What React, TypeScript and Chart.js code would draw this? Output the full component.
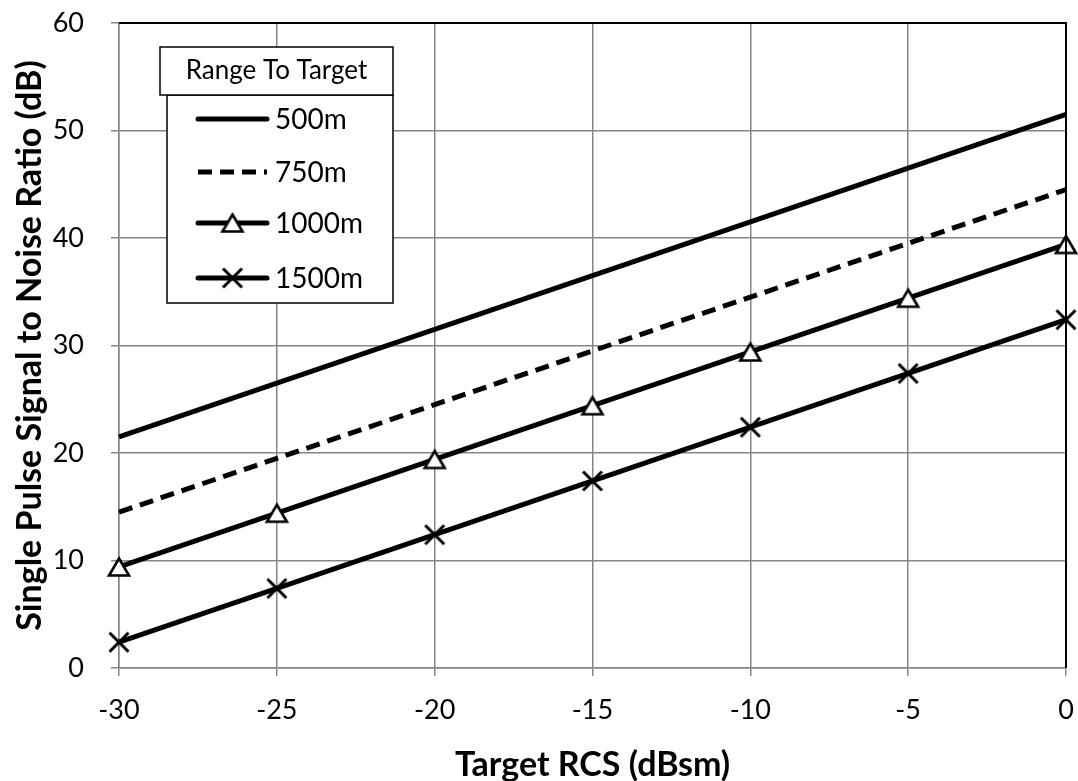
import React, { useEffect, useRef } from "react";
import { Chart, registerables } from "chart.js";

Chart.register(...registerables);

const rcsValues = [-30, -25, -20, -15, -10, -5, 0];
const snr500 = [21.5, 26.5, 31.5, 36.5, 41.5, 46.5, 51.5];
const snr750 = [14.5, 19.5, 24.5, 29.5, 34.5, 39.5, 44.5];
const snr1000 = [9.4, 14.4, 19.4, 24.4, 29.4, 34.4, 39.4];
const snr1500 = [2.4, 7.4, 12.4, 17.4, 22.4, 27.4, 32.4];
const seriesNames = ["500m", "750m", "1000m", "1500m"];
const legendTitle = "Range To Target";
const xTitle = "Target RCS (dBsm)";
const yTitle = "Single Pulse Signal to Noise Ratio (dB)";

const FONT = "Lato, 'Open Sans', sans-serif";

function makeTriangle(): HTMLCanvasElement {
  const c = document.createElement("canvas");
  const s = 28;
  c.width = s;
  c.height = s;
  const ctx = c.getContext("2d")!;
  const w = 20, h = 17;
  const cx = s / 2, cy = s / 2;
  ctx.beginPath();
  ctx.moveTo(cx, cy - h / 2);
  ctx.lineTo(cx + w / 2, cy + h / 2);
  ctx.lineTo(cx - w / 2, cy + h / 2);
  ctx.closePath();
  ctx.fillStyle = "#ffffff";
  ctx.fill();
  ctx.lineWidth = 2.6;
  ctx.lineJoin = "miter";
  ctx.strokeStyle = "#000000";
  ctx.stroke();
  return c;
}

function makeCross(): HTMLCanvasElement {
  const c = document.createElement("canvas");
  const s = 28;
  c.width = s;
  c.height = s;
  const ctx = c.getContext("2d")!;
  const hw = 9.5;
  const cx = s / 2, cy = s / 2;
  ctx.beginPath();
  ctx.moveTo(cx - hw, cy - hw);
  ctx.lineTo(cx + hw, cy + hw);
  ctx.moveTo(cx + hw, cy - hw);
  ctx.lineTo(cx - hw, cy + hw);
  ctx.lineWidth = 3;
  ctx.strokeStyle = "#000000";
  ctx.stroke();
  return c;
}

export default function App() {
  const ref = useRef<HTMLCanvasElement | null>(null);

  useEffect(() => {
    if (!ref.current) return;
    const tri = makeTriangle();
    const cross = makeCross();
    const toPts = (arr: number[]) => rcsValues.map((x, i) => ({ x, y: arr[i] }));

    const frameAndLegend = {
      id: "frameAndLegend",
      afterDatasetsDraw(chart: any) {
        const { ctx, chartArea } = chart;
        ctx.save();
        ctx.strokeStyle = "#000000";
        ctx.lineWidth = 2;
        ctx.beginPath();
        ctx.moveTo(chartArea.left, chartArea.top);
        ctx.lineTo(chartArea.right, chartArea.top);
        ctx.lineTo(chartArea.right, chartArea.bottom);
        ctx.stroke();
        ctx.restore();
      },
      afterDraw(chart: any) {
        const { ctx, chartArea } = chart;
        const L = chartArea.left;
        const T = chartArea.top;
        ctx.save();
        ctx.fillStyle = "#ffffff";
        ctx.strokeStyle = "#000000";
        ctx.lineWidth = 1.5;
        const tb = { x: L + 41, y: T + 24, w: 233, h: 48 };
        const ib = { x: L + 48, y: T + 72, w: 226, h: 208 };
        ctx.fillRect(ib.x, ib.y, ib.w, ib.h);
        ctx.strokeRect(ib.x, ib.y, ib.w, ib.h);
        ctx.fillRect(tb.x, tb.y, tb.w, tb.h);
        ctx.strokeRect(tb.x, tb.y, tb.w, tb.h);
        ctx.fillStyle = "#000000";
        ctx.font = `26px ${FONT}`;
        ctx.textAlign = "center";
        ctx.textBaseline = "middle";
        ctx.fillText(legendTitle, tb.x + tb.w / 2, tb.y + tb.h / 2);
        const rowY = [T + 96, T + 149, T + 200, T + 255];
        const x0 = L + 79, x1 = L + 148;
        ctx.textAlign = "left";
        ctx.font = `28px ${FONT}`;
        seriesNames.forEach((name, i) => {
          const y = rowY[i];
          ctx.beginPath();
          ctx.lineWidth = 5;
          ctx.strokeStyle = "#000000";
          ctx.lineCap = i === 1 ? "butt" : "round";
          ctx.setLineDash(i === 1 ? [14, 8] : []);
          ctx.moveTo(x0, y);
          ctx.lineTo(x1, y);
          ctx.stroke();
          ctx.setLineDash([]);
          const mx = (x0 + x1) / 2;
          if (i === 2) ctx.drawImage(tri, mx - 14, y - 14);
          if (i === 3) ctx.drawImage(cross, mx - 14, y - 14);
          ctx.fillStyle = "#000000";
          ctx.fillText(name, x1 + 8, y + 1);
        });
        ctx.restore();
      },
    };

    const common = {
      borderColor: "#000000",
      borderWidth: 5,
      fill: false,
      tension: 0,
      clip: false as any,
    };

    const chart = new Chart(ref.current, {
      type: "line",
      data: {
        datasets: [
          { ...common, label: seriesNames[0], data: toPts(snr500), pointRadius: 0 },
          { ...common, label: seriesNames[1], data: toPts(snr750), pointRadius: 0, borderDash: [14, 8] },
          { ...common, label: seriesNames[2], data: toPts(snr1000), pointStyle: tri as any, pointRadius: 12 },
          { ...common, label: seriesNames[3], data: toPts(snr1500), pointStyle: cross as any, pointRadius: 12 },
        ],
      },
      options: {
        animation: false,
        responsive: false,
        maintainAspectRatio: false,
        layout: { autoPadding: false, padding: { top: 23, right: 12, left: 0, bottom: 0 } },
        plugins: { legend: { display: false }, tooltip: { enabled: false } },
        scales: {
          x: {
            type: "linear",
            min: -30,
            max: 0,
            afterFit: (s: any) => {
              s.height = 113;
              s.paddingLeft = 0;
              s.paddingRight = 0;
            },
            ticks: { stepSize: 5, color: "#000000", font: { family: FONT, size: 27 }, padding: 18 },
            grid: { color: "#868686", lineWidth: 1.5, tickLength: 8, drawTicks: true },
            border: { color: "#868686", width: 1.5 },
            title: {
              display: true,
              text: xTitle,
              color: "#000000",
              font: { family: FONT, size: 34, weight: "bold" },
              padding: { top: 0, bottom: -4 },
            },
          },
          y: {
            type: "linear",
            min: 0,
            max: 60,
            afterFit: (s: any) => {
              s.width = 119;
              s.paddingTop = 0;
              s.paddingBottom = 0;
            },
            ticks: { stepSize: 10, color: "#000000", font: { family: FONT, size: 27 }, padding: 27 },
            grid: { color: "#868686", lineWidth: 1.5, tickLength: 8 },
            border: { color: "#868686", width: 1.5 },
            title: {
              display: true,
              text: yTitle,
              color: "#000000",
              font: { family: FONT, size: 34, weight: "bold" },
              padding: { top: 10, bottom: 0 },
            },
          },
        },
      },
      plugins: [frameAndLegend],
    });
    return () => chart.destroy();
  }, []);

  return (
    <div style={{ position: "fixed", left: 0, top: 0, width: 1078, height: 781, background: "#ffffff" }}>
      <canvas ref={ref} width={1078} height={781} style={{ width: 1078, height: 781, display: "block" }} />
    </div>
  );
}
